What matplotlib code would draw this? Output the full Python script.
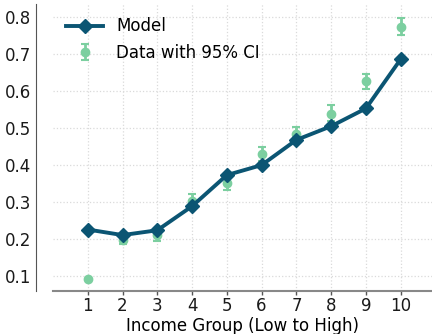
import matplotlib
matplotlib.use("Agg")
import matplotlib.pyplot as plt
import numpy as np

# Income deciles and the two series
groups = [1, 2, 3, 4, 5, 6, 7, 8, 9, 10]
model = [0.226, 0.211, 0.224, 0.289, 0.373, 0.400, 0.468, 0.505, 0.553, 0.686]
data_mean = [0.092, 0.198, 0.210, 0.302, 0.352, 0.430, 0.484, 0.539, 0.626, 0.774]
ci_low = [0.092, 0.186, 0.196, 0.283, 0.333, 0.410, 0.465, 0.518, 0.606, 0.751]
ci_high = [0.092, 0.210, 0.225, 0.323, 0.372, 0.450, 0.504, 0.561, 0.647, 0.797]

model_color = "#0b5573"
data_color = "#7ccfa0"

plt.rcParams["font.family"] = ["DejaVu Sans"]

fig = plt.figure(figsize=(4.32, 3.34), dpi=100)
ax = fig.add_axes([53 / 432, 1 - 291 / 334, 1 - 53 / 432, (291 - 4) / 334])

yerr = [np.array(data_mean) - np.array(ci_low), np.array(ci_high) - np.array(data_mean)]
ax.errorbar(groups, data_mean, yerr=yerr, fmt="o", color=data_color,
            markersize=6, elinewidth=2, capsize=3, capthick=1.5,
            label="Data with 95% CI", zorder=2)
ax.plot(groups, model, marker="D", color=model_color, linewidth=2.8,
        markersize=7, label="Model", zorder=3)

ax.set_xlim(0, 10.9)
ax.set_ylim(0.06, 0.835)
ax.set_xticks(groups)
ax.set_yticks([0.1, 0.2, 0.3, 0.4, 0.5, 0.6, 0.7, 0.8])
ax.tick_params(labelsize=12, length=0, colors="#1a1a1a", pad=4)
ax.tick_params(axis="x", length=3, width=1, color="#555555", pad=1.5)
ax.set_xlabel("Income Group (Low to High)", fontsize=12, labelpad=1)

ax.grid(True, color="#dadada", linestyle=":", linewidth=0.9)
ax.set_axisbelow(True)

for side in ("top", "right"):
    ax.spines[side].set_visible(False)
ax.spines["left"].set_position(("outward", 12))
ax.spines["left"].set_color("#555555")
ax.spines["bottom"].set_color("#888888")
ax.spines["bottom"].set_linewidth(1.5)

ax.legend(loc="upper left", fontsize=12, frameon=False,
          handlelength=2.2, borderaxespad=0.4)

fig.savefig("out.png", dpi=100)
